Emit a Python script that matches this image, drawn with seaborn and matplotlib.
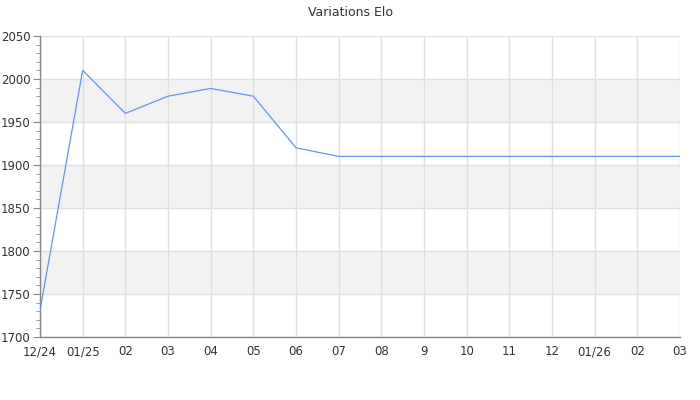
import matplotlib
matplotlib.use("Agg")
import matplotlib.pyplot as plt
from matplotlib.ticker import MultipleLocator
import pandas as pd
import seaborn as sns

labels = ["12/24", "01/25", "02", "03", "04", "05", "06", "07", "08", "9",
          "10", "11", "12", "01/26", "02", "03"]
elo = [1731, 2010, 1960, 1980, 1989, 1980, 1920, 1910, 1910, 1910,
       1910, 1910, 1910, 1910, 1910, 1910]

df = pd.DataFrame({"idx": range(len(labels)), "elo": elo})

sns.set_style("white")
plt.rcParams["font.family"] = ["DejaVu Sans"]

fig = plt.figure(figsize=(7, 4), dpi=100)
ax = fig.add_axes([40 / 700, 63 / 400, 640 / 700, 301 / 400])

# alternating bands
for lo in (1750, 1850, 1950):
    ax.axhspan(lo, lo + 50, color="#f2f2f2", zorder=0, lw=0)

sns.lineplot(data=df, x="idx", y="elo", color="#6495ed", linewidth=0.9, ax=ax, zorder=3)

ax.set_xlim(0, len(labels) - 1)
ax.set_ylim(1700, 2050)
ax.set_xticks(range(len(labels)))
ax.set_xticklabels(labels)
ax.yaxis.set_major_locator(MultipleLocator(50))
ax.yaxis.set_minor_locator(MultipleLocator(10))
ax.grid(True, which="major", color="#e0e0e0", linewidth=1, zorder=1)
ax.set_axisbelow(True)

for side in ("top", "right"):
    ax.spines[side].set_visible(False)
for side in ("left", "bottom"):
    ax.spines[side].set_color("#888888")
    ax.spines[side].set_linewidth(1)

ax.tick_params(axis="y", which="major", length=5, color="#888888", labelsize=8.5, labelcolor="#333333", pad=2, left=True)
ax.tick_params(axis="y", which="minor", length=3, color="#888888", left=True)
ax.tick_params(axis="x", length=0, labelsize=8.5, labelcolor="#333333", pad=6)

ax.set_xlabel("")
ax.set_ylabel("")
fig.text(0.5, 1 - 12 / 400, "Variations Elo", ha="center", va="center", fontsize=9, color="#333333")

fig.savefig("out.png", dpi=100)
